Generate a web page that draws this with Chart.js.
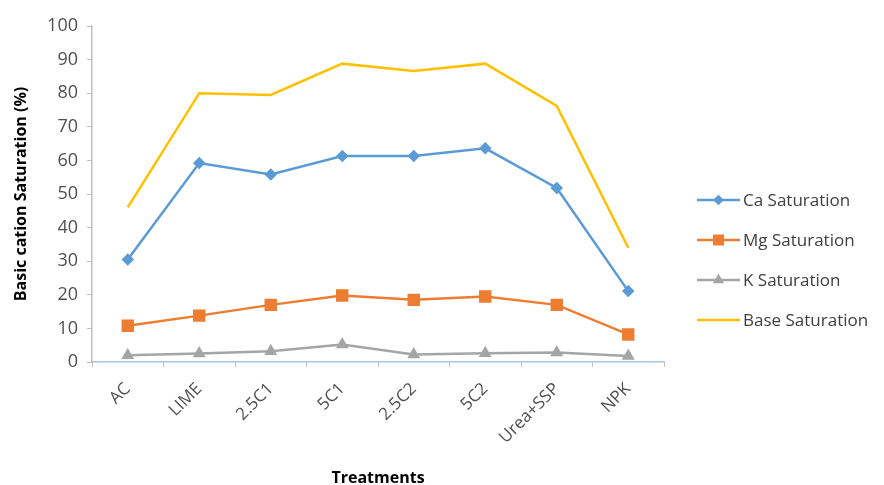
<!DOCTYPE html>
<html>
<head>
<meta charset="utf-8">
<script src="https://cdn.jsdelivr.net/npm/chart.js@4"></script>
<style>
  html, body { margin: 0; padding: 0; background: #fff; }
  #wrap { width: 884px; height: 485px; }
</style>
</head>
<body>
<div id="wrap"><canvas id="chart" width="884" height="485"></canvas></div>
<script>
const treatments = ['AC', 'LIME', '2.5C1', '5C1', '2.5C2', '5C2', 'Urea+SSP', 'NPK'];
const caSat   = [30.5, 59.2, 55.8, 61.3, 61.3, 63.6, 51.8, 21.1];
const mgSat   = [10.8, 13.8, 17.0, 19.8, 18.5, 19.5, 17.0, 8.2];
const kSat    = [2.0, 2.5, 3.2, 5.2, 2.2, 2.6, 2.8, 1.8];
const baseSat = [46.0, 80.0, 79.5, 88.8, 86.6, 88.8, 76.2, 34.0];
const yTicks  = [0, 10, 20, 30, 40, 50, 60, 70, 80, 90, 100];

const FONT = "'Open Sans', 'Liberation Sans', sans-serif";

// legend drawn by hand: line + marker, like the spreadsheet one
const sideLegend = {
    id: 'sideLegend',
    afterDraw(chart) {
        const ctx = chart.ctx;
        const x0 = 697, x1 = 740, yStart = 200, gap = 40;
        chart.data.datasets.forEach((ds, i) => {
            const y = yStart + i * gap;
            ctx.save();
            ctx.strokeStyle = ds.borderColor;
            ctx.lineWidth = 2.5;
            ctx.beginPath();
            ctx.moveTo(x0, y);
            ctx.lineTo(x1, y);
            ctx.stroke();
            if (ds.pointRadius > 0) {
                ctx.fillStyle = ds.borderColor;
                ctx.strokeStyle = ds.borderColor;
                Chart.helpers.drawPoint(ctx, {
                    pointStyle: ds.pointStyle, radius: ds.pointRadius - 1, borderWidth: 1
                }, (x0 + x1) / 2, y);
            }
            ctx.fillStyle = '#404040';
            ctx.font = "17px " + FONT;
            ctx.textBaseline = 'middle';
            ctx.fillText(ds.label, x1 + 3, y + 1);
            ctx.restore();
        });
    }
};

const ctx = document.getElementById('chart').getContext('2d');
new Chart(ctx, {
    type: 'line',
    data: {
        labels: treatments,
        datasets: [
            { label: 'Ca Saturation', data: caSat, borderColor: '#5B9BD5', backgroundColor: '#5B9BD5',
              pointStyle: 'rectRot', pointRadius: 4.5, borderWidth: 2.5 },
            { label: 'Mg Saturation', data: mgSat, borderColor: '#ED7D31', backgroundColor: '#ED7D31',
              pointStyle: 'rect', pointRadius: 7, borderWidth: 2.5 },
            { label: 'K Saturation', data: kSat, borderColor: '#A5A5A5', backgroundColor: '#A5A5A5',
              pointStyle: 'triangle', pointRadius: 5, borderWidth: 2.5 },
            { label: 'Base Saturation', data: baseSat, borderColor: '#FFC000', backgroundColor: '#FFC000',
              pointStyle: 'circle', pointRadius: 0, borderWidth: 2.5 }
        ]
    },
    options: {
        responsive: false,
        animation: false,
        layout: { padding: { top: 26, right: 220, left: 0, bottom: 0 } },
        plugins: { legend: { display: false }, tooltip: { enabled: false } },
        scales: {
            x: {
                offset: true,
                grid: { offset: true, drawOnChartArea: false, drawTicks: true, tickLength: 5, color: '#BFBFBF' },
                border: { color: '#A9C4DE', width: 1.5 },
                ticks: { color: '#505050', font: { family: FONT, size: 17 }, minRotation: 45, maxRotation: 45, padding: 12 },
                title: { display: true, text: 'Treatments', color: '#000', font: { family: FONT, size: 16, weight: 'bold' }, padding: { top: 0, bottom: -3 } },
                afterFit(scale) { scale.height = 123; }
            },
            y: {
                min: 0, max: 100,
                afterBuildTicks(scale) { scale.ticks = yTicks.map(v => ({ value: v })); },
                grid: { drawOnChartArea: false, drawTicks: true, tickLength: 5, color: '#BFBFBF' },
                border: { color: '#BFBFBF', width: 1.5 },
                ticks: { color: '#505050', font: { family: FONT, size: 18 }, padding: 9 },
                title: { display: true, text: 'Basic cation Saturation (%)', color: '#000', font: { family: FONT, size: 16, weight: 'bold' }, padding: { top: 12, bottom: 0 } },
                afterFit(scale) { scale.width = 92; }
            }
        }
    },
    plugins: [sideLegend]
});
</script>
</body>
</html>
